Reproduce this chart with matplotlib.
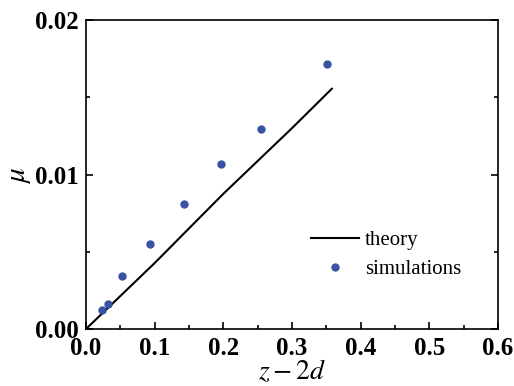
import matplotlib
matplotlib.use('Agg')
from matplotlib import pyplot as plt
from matplotlib.ticker import MultipleLocator

plt.rcParams['font.family'] = ['Liberation Serif', 'DejaVu Serif']
plt.rcParams['mathtext.fontset'] = 'stix'

# theory curve
theory_x = [0.0, 0.1, 0.2, 0.3, 0.358]
theory_y = [0.0, 0.00427, 0.00875, 0.0130, 0.01555]

# simulation points
sim_x = [0.023, 0.032, 0.052, 0.093, 0.143, 0.197, 0.255, 0.351]
sim_y = [0.00123, 0.00162, 0.00343, 0.0055, 0.00809, 0.01068, 0.01294, 0.01715]

fig = plt.figure(figsize=(5.14, 3.86), dpi=100)
ax = fig.add_axes([86/514, 1 - 329/386, 412/514, 309/386])

ax.plot(theory_x, theory_y, color='black', lw=1.5, label='theory')
ax.plot(sim_x, sim_y, 'o', color='#3853a4', ms=5, label='simulations')

ax.set_xlim(0, 0.6)
ax.set_ylim(0, 0.02)
ax.xaxis.set_major_locator(MultipleLocator(0.1))
ax.xaxis.set_minor_locator(MultipleLocator(0.05))
ax.yaxis.set_major_locator(MultipleLocator(0.01))
ax.yaxis.set_minor_locator(MultipleLocator(0.005))
ax.xaxis.set_major_formatter(plt.FuncFormatter(lambda v, p: '%.1f' % v))
ax.yaxis.set_major_formatter(plt.FuncFormatter(lambda v, p: '%.2f' % v))

ax.tick_params(which='both', direction='in', top=False, right=True, width=1.2)
ax.tick_params(which='major', length=5, labelsize=18)
ax.tick_params(axis='x', pad=6)
ax.tick_params(axis='y', pad=5)
ax.tick_params(which='minor', length=3)
for lab in ax.get_xticklabels() + ax.get_yticklabels():
    lab.set_fontweight('bold')
for s in ax.spines.values():
    s.set_linewidth(1.2)

ax.set_xlabel(r'$z-2d$', fontsize=20, labelpad=-1.5)
ax.set_ylabel(r'$\mu$', fontsize=21, labelpad=2)

ax.legend(loc='center left', bbox_to_anchor=(0.50, 0.24), frameon=False,
          fontsize=15, handlelength=2.3, handletextpad=0.3, labelspacing=0.45)

fig.savefig('out.png', dpi=100)
